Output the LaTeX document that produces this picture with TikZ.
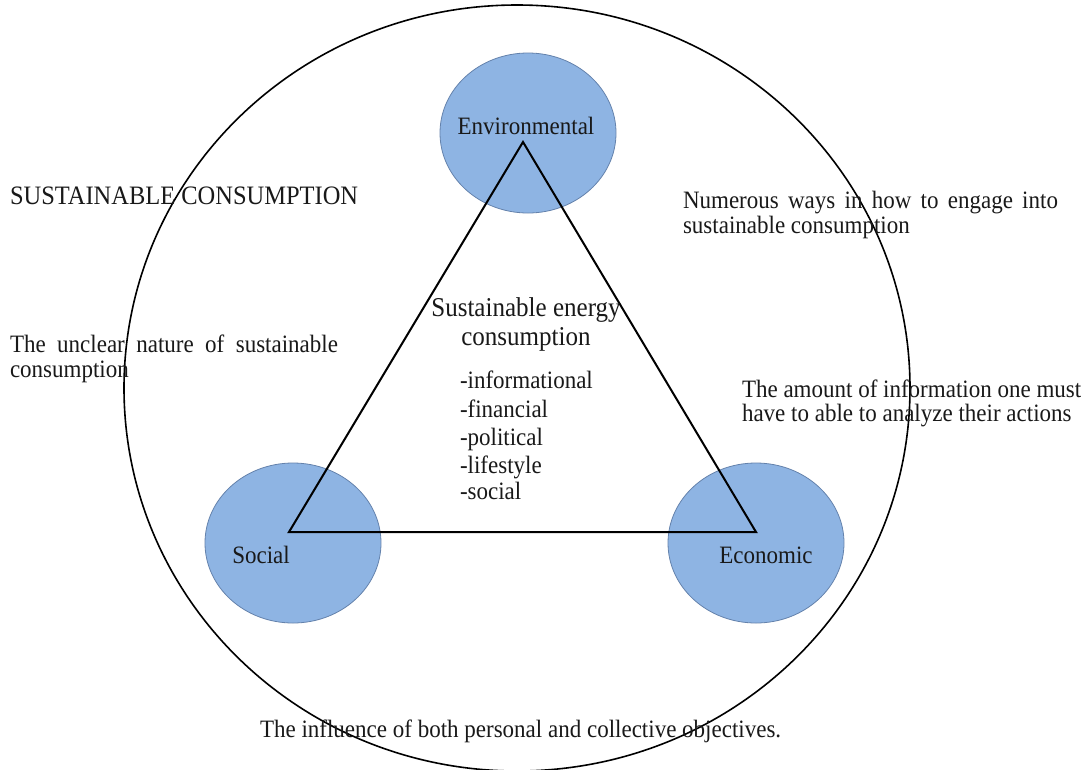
\documentclass[tikz,border=0pt]{standalone}
\usepackage{fontspec}
\setmainfont[FakeStretch=0.92]{Liberation Serif}
\usetikzlibrary{shapes.geometric}
\definecolor{bubblefill}{RGB}{142,180,227}
\definecolor{bubbleline}{RGB}{100,130,172}
\definecolor{inktext}{RGB}{25,25,25}
\begin{document}
\begin{tikzpicture}[x=1pt,y=-1pt,
  txt/.style={inner sep=0pt, outer sep=0pt, anchor=base west, text=inktext, font=\fontsize{25}{28}\selectfont},
  ctxt/.style={txt, anchor=base},
  bubble/.style={ellipse, fill=bubblefill, draw=bubbleline, line width=0.8pt, minimum width=176pt, minimum height=160pt, inner sep=0pt},
  outerring/.style={ellipse, draw=black, line width=1.6pt, minimum width=786pt, minimum height=766pt, inner sep=0pt},
  edgeline/.style={line width=2pt, line join=miter, draw=black},
]
\useasboundingbox (0,0) rectangle (1086,769);
\fill[white] (0,0) rectangle (1086,769);
\node[outerring] (outer) at (517,388) {};
\node[bubble] (env) at (528,133) {};
\node[bubble] (soc) at (293,543) {};
\node[bubble] (eco) at (756,543) {};
\coordinate (apex) at (523,142);
\coordinate (lft) at (289,532);
\coordinate (rgt) at (756,532);
\draw[edgeline] (apex) -- (lft) -- (rgt) -- cycle;
% circle labels
\node[ctxt] (envt) at (526,134) {Environmental};
\node[ctxt] (soct) at (261,563) {Social};
\node[ctxt] (ecot) at (766,563) {Economic};
% side texts
\node[txt, font=\fontsize{26.6}{28}\selectfont] (sc) at (10,204) {SUSTAINABLE CONSUMPTION};
\node[txt] (num1) at (683,208) {\makebox[375pt][s]{Numerous ways in how to engage into}};
\node[txt] (num2) at (683,233) {sustainable consumption};
\node[txt] (unc1) at (10,352) {\makebox[328pt][s]{The unclear nature of sustainable}};
\node[txt] (unc2) at (10,377) {consumption};
\node[txt] (amt1) at (742,397) {The amount of information one must};
\node[txt] (amt2) at (742,421) {have to able to analyze their actions};
\node[txt] (infl) at (260,737) {The influence of both personal and collective objectives.};
% centre texts
\node[ctxt, font=\fontsize{27.2}{29}\selectfont] (se1) at (526,316) {Sustainable energy};
\node[ctxt, font=\fontsize{27.2}{29}\selectfont] (se2) at (526,345) {consumption};
\node[txt] (l1) at (460,388) {-informational};
\node[txt] (l2) at (460,417) {-financial};
\node[txt] (l3) at (460,445) {-political};
\node[txt] (l4) at (460,473) {-lifestyle};
\node[txt] (l5) at (460,499) {-social};
\end{tikzpicture}
\end{document}
